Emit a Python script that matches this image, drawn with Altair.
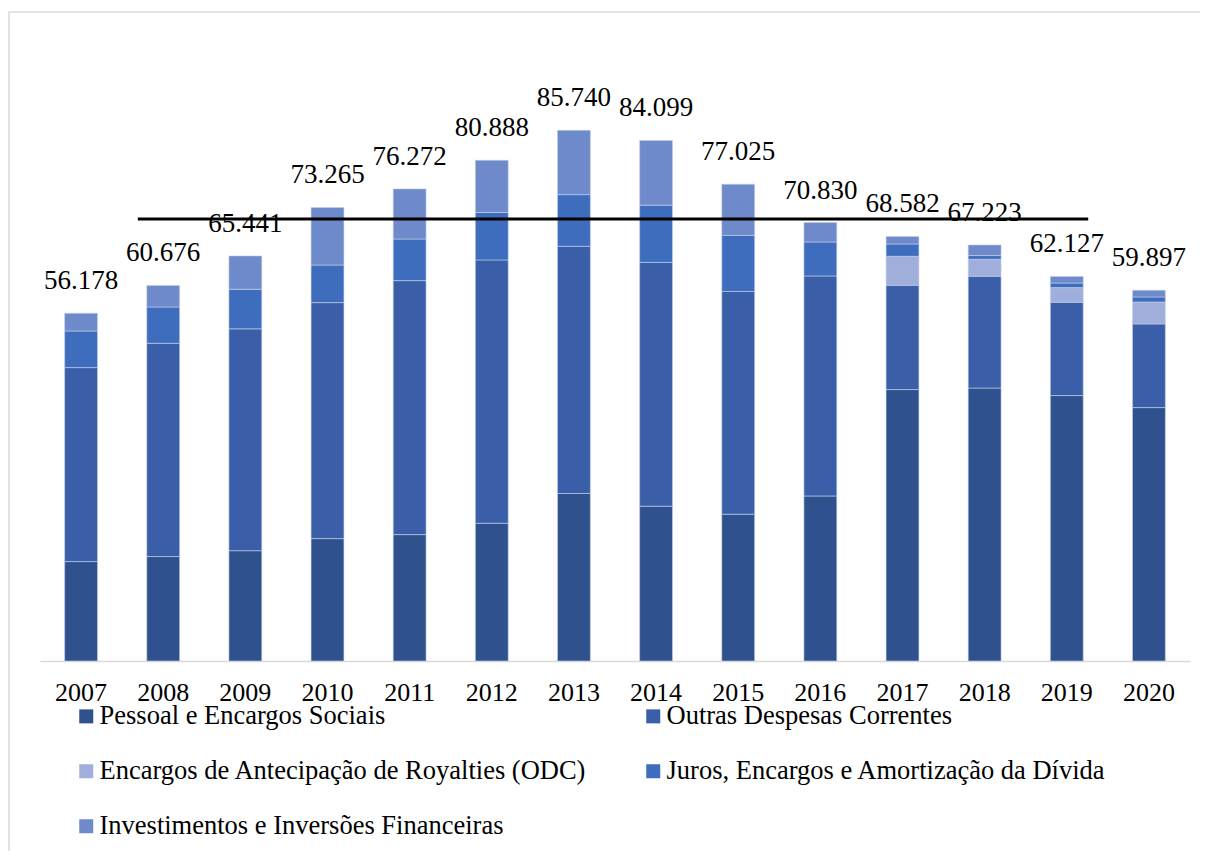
import altair as alt
import pandas as pd

years = ["2007", "2008", "2009", "2010", "2011", "2012", "2013",
         "2014", "2015", "2016", "2017", "2018", "2019", "2020"]

series = ["Pessoal e Encargos Sociais",
          "Outras Despesas Correntes",
          "Encargos de Antecipação de Royalties (ODC)",
          "Juros, Encargos e Amortização da Dívida",
          "Investimentos e Inversões Financeiras"]

pessoal = [16.06, 16.87, 17.82, 19.77, 20.42, 22.25, 27.06, 25.01, 23.72, 26.66, 43.85, 44.10, 42.88, 40.94]
outras = [31.34, 34.46, 35.84, 38.13, 41.03, 42.54, 39.94, 39.39, 35.98, 35.54, 16.85, 18.05, 15.07, 13.51]
odc = [0, 0, 0, 0, 0, 0, 0, 0, 0, 0, 4.68, 2.75, 2.37, 3.55]
juros = [5.91, 5.86, 6.39, 6.07, 6.72, 7.66, 8.34, 9.24, 9.06, 5.49, 1.99, 0.60, 0.74, 0.81]
invest = [2.87, 3.49, 5.39, 9.30, 8.10, 8.44, 10.40, 10.46, 8.27, 3.14, 1.21, 1.72, 1.07, 1.09]

totals = [56.178, 60.676, 65.441, 73.265, 76.272, 80.888, 85.740,
          84.099, 77.025, 70.830, 68.582, 67.223, 62.127, 59.897]

reference_line = 71.4
line_from, line_to = "2008", "2019"

colors = ["#2F528F", "#3A5FA8", "#9FAEDA", "#3E6DBE", "#6E8ACB"]

# legend is laid out column by column: order entries so rows read as in the reference
legend_order = [0, 2, 4, 1, 3]
legend_domain = [series[i] for i in legend_order]
legend_range = [colors[i] for i in legend_order]

rows = []
for i, yr in enumerate(years):
    for k, vals in enumerate([pessoal, outras, odc, juros, invest]):
        if vals[i] > 0:
            rows.append({"year": yr, "serie": series[k], "valor": vals[i], "ordem": k})
df = pd.DataFrame(rows)

df_tot = pd.DataFrame({"year": years, "total": totals,
                       "label": [f"{t:.3f}" for t in totals]})
df_line = pd.DataFrame({"start": [line_from], "end": [line_to], "v": [reference_line]})

FONT = "'Liberation Serif', 'Times New Roman', Times, serif"
x_scale = alt.Scale(domain=years, paddingInner=0.6, paddingOuter=0.3)
y_scale = alt.Scale(domain=[0, 100], nice=False)

bars = alt.Chart(df).mark_bar(stroke="#c5d0ea", strokeWidth=0.6).encode(
    x=alt.X("year:N", scale=x_scale, title=None,
            axis=alt.Axis(labelFont=FONT, labelFontSize=26, labelColor="black",
                          labelAngle=0, ticks=False, domainColor="#d9d9d9",
                          domainWidth=1.5, labelPadding=18)),
    y=alt.Y("valor:Q", stack="zero", scale=y_scale, axis=None),
    color=alt.Color("serie:N", scale=alt.Scale(domain=legend_domain, range=legend_range),
                    legend=alt.Legend(title=None, orient="none", legendX=33, legendY=661,
                                      columns=2, columnPadding=53, rowPadding=28,
                                      symbolType="square", symbolSize=196,
                                      symbolStrokeWidth=0, labelFont=FONT,
                                      labelFontSize=26.5, labelColor="black",
                                      labelLimit=0, labelOffset=0, padding=0)),
    order=alt.Order("ordem:Q", sort="ascending"),
)

text = alt.Chart(df_tot).mark_text(dy=-32, baseline="middle", font=FONT,
                                   fontSize=27, color="black").encode(
    x=alt.X("year:N", scale=x_scale),
    y=alt.Y("total:Q", scale=y_scale),
    text="label:N",
)

rule = alt.Chart(df_line).mark_rule(color="black", strokeWidth=3,
                                    xOffset=-9, x2Offset=5).encode(
    x=alt.X("start:N", scale=x_scale, bandPosition=0),
    x2=alt.X2("end", bandPosition=1),
    y=alt.Y("v:Q", scale=y_scale),
)

border = alt.Chart(pd.DataFrame({"a": [0]})).mark_rect(
    fill="transparent", stroke="#d9d9d9", strokeWidth=1.5).encode(
    x=alt.value(-31), x2=alt.value(1200), y=alt.value(-30), y2=alt.value(900))

chart = alt.layer(border, bars, text, rule).properties(
    width=1150, height=619,
    autosize=alt.AutoSizeParams(type="none"),
    padding={"left": 32, "top": 34, "right": 10, "bottom": 190},
).configure_view(stroke=None)

chart.save("out.html", embed_options={"renderer": "svg", "actions": False})
